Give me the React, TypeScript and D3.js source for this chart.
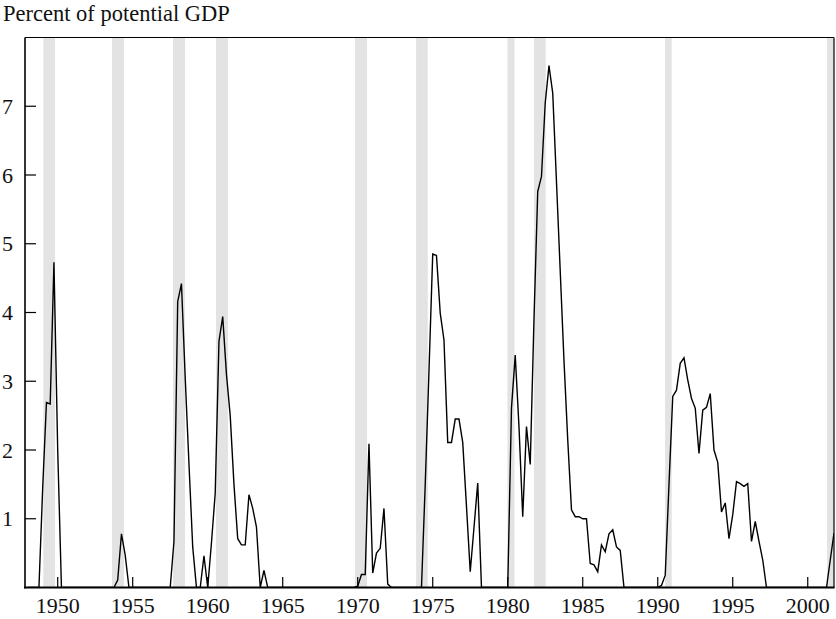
import React from "react";
import * as d3 from "d3";

// Quarterly series, starting 1948 Q1 (percent of potential GDP)
const startYear = 1948;
const gapValues: number[] = [
  // 1948
  0, 0, 0, 0,
  // 1949
  1.45, 2.69, 2.67, 4.73,
  // 1950
  2.0, 0, 0, 0,
  // 1951
  0, 0, 0, 0,
  // 1952
  0, 0, 0, 0,
  // 1953
  0, 0, 0, 0,
  // 1954
  0.11, 0.78, 0.47, 0,
  // 1955
  0, 0, 0, 0,
  // 1956
  0, 0, 0, 0,
  // 1957
  0, 0, 0, 0.67,
  // 1958
  4.16, 4.42, 3.05, 1.8,
  // 1959
  0.59, 0, 0, 0.46,
  // 1960
  0, 0.65, 1.37, 3.58,
  // 1961
  3.94, 3.1, 2.5, 1.5,
  // 1962
  0.71, 0.62, 0.62, 1.35,
  // 1963
  1.15, 0.88, 0, 0.25,
  // 1964
  0, 0, 0, 0,
  // 1965
  0, 0, 0, 0,
  // 1966
  0, 0, 0, 0,
  // 1967
  0, 0, 0, 0,
  // 1968
  0, 0, 0, 0,
  // 1969
  0, 0, 0, 0,
  // 1970
  0.02, 0.19, 0.19, 2.09,
  // 1971
  0.21, 0.5, 0.57, 1.15,
  // 1972
  0.05, 0, 0, 0,
  // 1973
  0, 0, 0, 0,
  // 1974
  0, 0, 1.5, 3.15,
  // 1975
  4.85, 4.83, 3.99, 3.6,
  // 1976
  2.11, 2.11, 2.45, 2.45,
  // 1977
  2.11, 1.18, 0.23, 0.87,
  // 1978
  1.52, 0, 0, 0,
  // 1979
  0, 0, 0, 0,
  // 1980
  0, 2.61, 3.38, 2.34,
  // 1981
  1.03, 2.34, 1.79, 3.9,
  // 1982
  5.76, 5.98, 7.05, 7.59,
  // 1983
  7.19, 5.9, 4.6, 3.3,
  // 1984
  2.15, 1.13, 1.03, 1.03,
  // 1985
  1.0, 1.0, 0.35, 0.33,
  // 1986
  0.23, 0.62, 0.52, 0.78,
  // 1987
  0.84, 0.59, 0.54, 0,
  // 1988
  0, 0, 0, 0,
  // 1989
  0, 0, 0, 0,
  // 1990
  0, 0.03, 0.18, 1.5,
  // 1991
  2.78, 2.87, 3.26, 3.34,
  // 1992
  3.02, 2.75, 2.61, 1.95,
  // 1993
  2.58, 2.62, 2.82, 2.0,
  // 1994
  1.82, 1.1, 1.23, 0.71,
  // 1995
  1.06, 1.54, 1.51, 1.47,
  // 1996
  1.51, 0.67, 0.96, 0.67,
  // 1997
  0.4, 0, 0, 0,
  // 1998
  0, 0, 0, 0,
  // 1999
  0, 0, 0, 0,
  // 2000
  0, 0, 0, 0,
  // 2001
  0, 0, 0.4, 0.79,
];

// Recession periods (shaded)
const recessionStarts = [1949.04, 1953.62, 1957.69, 1960.55, 1969.82, 1973.89, 1979.98, 1981.75, 1990.49, 2001.29];
const recessionEnds = [1949.82, 1954.42, 1958.49, 1961.35, 1970.62, 1974.67, 1980.45, 1982.53, 1990.93, 2002.0];

const xTickYears = [1950, 1955, 1960, 1965, 1970, 1975, 1980, 1985, 1990, 1995, 2000];
const yTickValues = [1, 2, 3, 4, 5, 6, 7];
const titleText = "Percent of potential GDP";

export default function App() {
  const W = 836;
  const H = 619;
  const left = 25;
  const right = 834;
  const top = 37.5;
  const bottom = 587.5;

  const x = d3.scaleLinear().domain([1947.82, 2001.75]).range([left, right]);
  const y = d3.scaleLinear().domain([0, 8]).range([bottom, top]);

  const points = gapValues.map((v, i) => ({ year: startYear + i / 4, value: v }));
  const line = d3
    .line<{ year: number; value: number }>()
    .x((d) => x(d.year))
    .y((d) => y(d.value));

  const textStyle: React.CSSProperties = { fontFamily: "Liberation Serif", fontSize: "22px" };

  return (
    <svg
      width={W}
      height={H}
      style={{ position: "absolute", left: 0, top: 0, display: "block", background: "#fff" }}
    >
      <defs>
        <clipPath id="plotClip">
          <rect x={left} y={top} width={right - left} height={bottom - top} />
        </clipPath>
      </defs>
      <text x={3} y={20.5} style={{ ...textStyle, fontSize: "22.5px" }} fill="#111">
        {titleText}
      </text>
      <g clipPath="url(#plotClip)">
        {recessionStarts.map((s, i) => (
          <rect
            key={i}
            x={x(s)}
            y={top}
            width={x(recessionEnds[i]) - x(s)}
            height={bottom - top}
            fill="#e3e3e3"
          />
        ))}
        <path d={line(points) || ""} fill="none" stroke="#000" strokeWidth={1.4} strokeLinejoin="miter" />
      </g>
      {/* frame */}
      <line x1={left} x2={right} y1={top} y2={top} stroke="#000" strokeWidth={1.2} />
      <line x1={right} x2={right} y1={top} y2={bottom} stroke="#000" strokeWidth={1.2} />
      <line x1={left} x2={left} y1={top} y2={bottom + 1} stroke="#000" strokeWidth={1.6} />
      <line x1={left - 0.8} x2={right + 0.6} y1={bottom} y2={bottom} stroke="#000" strokeWidth={2.2} />
      {/* y ticks */}
      {yTickValues.map((v) => (
        <g key={v}>
          <line x1={left} x2={left + 11} y1={y(v)} y2={y(v)} stroke="#000" strokeWidth={1.2} />
          <text x={13} y={y(v)} dy="0.35em" textAnchor="end" style={textStyle} fill="#111">
            {v}
          </text>
        </g>
      ))}
      {/* x ticks */}
      {xTickYears.map((yr) => (
        <g key={yr}>
          <line x1={x(yr)} x2={x(yr)} y1={bottom} y2={bottom - 10.5} stroke="#000" strokeWidth={1.2} />
          <text x={x(yr)} y={613} textAnchor="middle" style={textStyle} fill="#111">
            {yr}
          </text>
        </g>
      ))}
    </svg>
  );
}
